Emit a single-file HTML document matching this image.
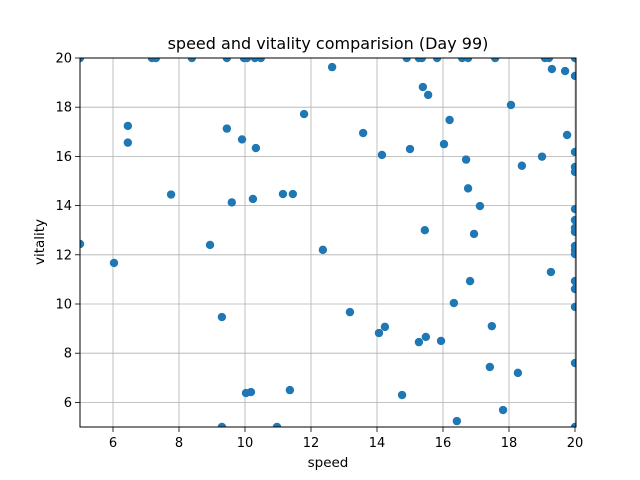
<!DOCTYPE html>
<html><head><meta charset="utf-8"><style>
body{margin:0;background:#fff;}
svg{display:block;font-family:"DejaVu Sans","Liberation Sans",sans-serif;}
</style></head><body>
<svg id="chart" width="640" height="480">
<defs><clipPath id="clip"><rect x="80" y="58" width="496" height="369"/></clipPath></defs>
<rect width="640" height="480" fill="#fff"/>
<g id="grid"></g>
<g id="pts" clip-path="url(#clip)"></g>
<rect x="80" y="58" width="496" height="369" fill="none" stroke="#000" stroke-width="1"/>
<g id="ticks"></g>
<text x="328" y="49" text-anchor="middle" font-size="16">speed and vitality comparision (Day 99)</text>
<text x="328" y="467" text-anchor="middle" font-size="13.5">speed</text>
<text x="44" y="242" text-anchor="middle" font-size="13.5" transform="rotate(-90 44 242)">vitality</text>
</svg>
<script>
const xTicks=[6,8,10,12,14,16,18,20];
const yTicks=[6,8,10,12,14,16,18,20];
const speed=[5,5,6.03,6.45,6.45,7.18,7.3,7.76,8.39,8.94,9.3,9.3,9.45,9.45,9.6,9.91,9.97,10.06,10.03,10.18,10.24,10.33,10.3,10.48,10.97,11.15,11.45,11.36,11.79,12.36,12.64,13.18,13.58,14.06,14.24,14.15,14.76,14.9,15,15.27,15.27,15.36,15.39,15.45,15.48,15.55,15.82,15.94,16.03,16.2,16.33,16.42,16.58,16.7,16.76,16.76,16.82,16.94,17.12,17.42,17.48,17.58,17.82,18.06,18.27,18.39,19,19.09,19.21,19.27,19.3,19.7,19.76,20,20,20,20,20,20,20,20,20,20,20,20,20,20,20,20,20];
const vitality=[20,12.44,11.67,16.56,17.24,20,20,14.45,20,12.4,9.47,5,17.13,20,14.13,16.69,20,20,6.38,6.42,14.27,16.34,20,20,5,14.47,14.47,6.5,17.72,12.2,19.63,9.67,16.95,8.82,9.07,16.06,6.3,20,16.3,8.45,20,20,18.82,13,8.66,18.5,20,8.5,16.5,17.48,10.04,5.24,20,15.87,14.7,20,10.93,12.85,13.98,7.44,9.1,20,5.69,18.09,7.2,15.62,15.99,20,20,11.3,19.55,19.47,16.87,20,19.27,16.18,15.57,15.37,13.86,13.41,13.09,12.93,12.36,12.2,12.03,10.93,10.61,9.88,7.6,5];
const NS='http://www.w3.org/2000/svg';
const X=v=>80+(v-5)*(495/15);
const Y=v=>427-(v-5)*(369/15);
const grid=document.getElementById('grid'),ticks=document.getElementById('ticks'),pts=document.getElementById('pts');
function mk(tag,attrs,parent){const e=document.createElementNS(NS,tag);for(const k in attrs)e.setAttribute(k,attrs[k]);parent.appendChild(e);return e;}
xTicks.forEach(t=>{
 const g=mk('line',{x1:X(t),x2:X(t),y1:58,y2:427,stroke:'#b0b0b0','stroke-width':0.8},grid);
 
 
 const tk=mk('line',{x1:X(t),x2:X(t),y1:427,y2:432,stroke:'#000','stroke-width':0.8},ticks);
 
 
 const tx=mk('text',{x:X(t),y:447,'text-anchor':'middle','font-size':13},ticks);
 tx.textContent=t;
 
 
});
yTicks.forEach(t=>{
 const g=mk('line',{x1:80,x2:576,y1:Y(t),y2:Y(t),stroke:'#b0b0b0','stroke-width':0.8},grid);
 
 
 const tk=mk('line',{x1:75,x2:80,y1:Y(t),y2:Y(t),stroke:'#000','stroke-width':0.8},ticks);
 
 
 const tx=mk('text',{x:72,y:Y(t)+4.5,'text-anchor':'end','font-size':13},ticks);
 tx.textContent=t;
 
 
});
speed.forEach((s,i)=>{
 const c=mk('circle',{cx:X(s),cy:Y(vitality[i]),r:4.2,fill:'#1f77b4'},pts);
 
 
});
</script>
</body></html>
